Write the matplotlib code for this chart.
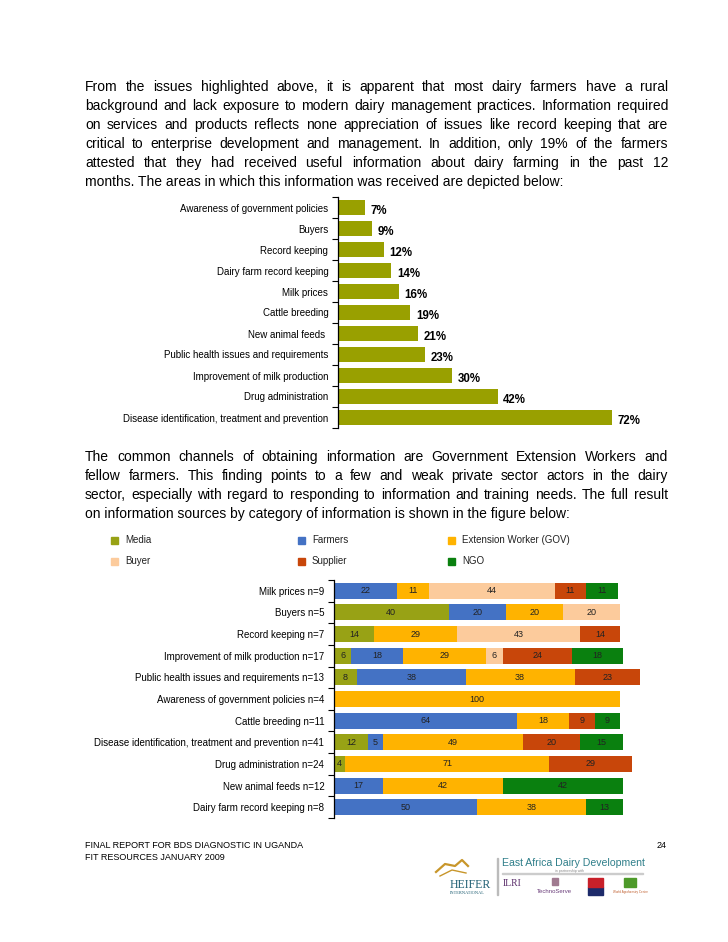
import numpy as np
import matplotlib
matplotlib.use('Agg')
import matplotlib.pyplot as plt
from matplotlib.patches import Rectangle
from matplotlib.lines import Line2D

plt.rcParams['font.family'] = ['Liberation Sans', 'DejaVu Sans']

W, H = 728, 942

# --- data chart 1 (top to bottom)
areas = ['Awareness of government policies', 'Buyers', 'Record keeping',
         'Dairy farm record keeping', 'Milk prices', 'Cattle breeding',
         'New animal feeds ', 'Public health issues and requirements',
         'Improvement of milk production', 'Drug administration',
         'Disease identification, treatment and prevention']
area_pct = [7, 9, 12, 14, 16, 19, 21, 23, 30, 42, 72]

# --- data chart 2 (top to bottom)
topics = ['Milk prices n=9', 'Buyers n=5', 'Record keeping n=7',
          'Improvement of milk production n=17',
          'Public health issues and requirements n=13',
          'Awareness of government policies n=4', 'Cattle breeding n=11',
          'Disease identification, treatment and prevention n=41',
          'Drug administration n=24', 'New animal feeds n=12',
          'Dairy farm record keeping n=8']
sources = ['Media', 'Farmers', 'Extension Worker (GOV)', 'Buyer', 'Supplier', 'NGO']
media    = [0, 40, 14, 6, 8, 0, 0, 12, 4, 0, 0]
farmers  = [22, 20, 0, 18, 38, 0, 64, 5, 0, 17, 50]
extens   = [11, 20, 29, 29, 38, 100, 18, 49, 71, 42, 38]
buyer    = [44, 20, 43, 6, 0, 0, 0, 0, 0, 0, 0]
supplier = [11, 0, 14, 24, 23, 0, 9, 20, 29, 0, 0]
ngo      = [11, 0, 0, 18, 0, 0, 9, 15, 0, 42, 13]
src_colors = ['#98a215', '#4472c4', '#ffb300', '#fccb9c', '#c8460a', '#0a800f']

para1 = ["From the issues highlighted above, it is apparent that most dairy farmers have a rural",
         "background and lack exposure to modern dairy management practices. Information required",
         "on services and products reflects none appreciation of issues like record keeping that are",
         "critical to enterprise development and management. In addition, only 19% of the farmers",
         "attested that they had received useful information about dairy farming in the past 12",
         "months. The areas in which this information was received are depicted below:"]
para2 = ["The common channels of obtaining information are Government Extension Workers and",
         "fellow farmers. This finding points to a few and weak private sector actors in the dairy",
         "sector, especially with regard to responding to information and training needs. The full result",
         "on information sources by category of information is shown in the figure below:"]

fig = plt.figure(figsize=(W / 100, H / 100), dpi=100)
fig.patch.set_facecolor('white')
renderer = fig.canvas.get_renderer()


def fx(x):
    return x / W


def fy(y):
    return 1 - y / H


# justified paragraph, last line left aligned
def paragraph(lines, y0, x0=85, x1=668, step=19, size=10):
    for i, line in enumerate(lines):
        y = y0 + i * step
        if i == len(lines) - 1:
            fig.text(fx(x0), fy(y), line, fontsize=size, va='baseline')
            continue
        words = line.split(' ')
        objs = [fig.text(0, fy(y), w, fontsize=size, va='baseline') for w in words]
        widths = [o.get_window_extent(renderer).width for o in objs]
        gap = (x1 - x0 - sum(widths)) / (len(words) - 1)
        x = x0
        for o, wd in zip(objs, widths):
            o.set_x(fx(x))
            x += wd + gap


paragraph(para1, 91)
paragraph(para2, 461)

lab_font = ['Liberation Sans', 'DejaVu Sans']

# ---------------- chart 1
ax1 = fig.add_axes([fx(338), fy(428), fx(304), 231 / H])
y1 = np.arange(len(areas))
ax1.barh(y1, area_pct, height=0.68, color='#99a000')
for yy, v in zip(y1, area_pct):
    ax1.text(v + 1.5, yy + 0.15, f'{v}%', fontsize=8.3, fontweight='bold',
             va='center', ha='left', family=lab_font)
ax1.set_ylim(len(areas) - 0.5, -0.5)
ax1.set_xlim(0, 80)
ax1.set_yticks(y1)
ax1.set_yticklabels(areas, fontsize=7, family=lab_font)
ax1.set_yticks(np.arange(-0.5, len(areas)), minor=True)
ax1.tick_params(axis='y', which='major', length=0, pad=7)
ax1.tick_params(axis='y', which='minor', length=4, width=0.8, direction='out')
ax1.set_xticks([])
for s in ['top', 'right', 'bottom']:
    ax1.spines[s].set_visible(False)
ax1.spines['left'].set_linewidth(0.9)

# ---------------- legend chart 2
leg_pos = [(115, 540), (115, 561), (302, 540), (302, 561), (452, 540), (452, 561)]
leg_order = [0, 3, 1, 4, 2, 5]
for (lx, ly), k in zip(leg_pos, leg_order):
    fig.patches.append(Rectangle((fx(lx - 4), fy(ly + 3.5)), 7 / W, 7 / H,
                                 transform=fig.transFigure, color=src_colors[k]))
    fig.text(fx(lx + 10), fy(ly), sources[k], fontsize=7, va='center',
             family=lab_font, color='#222222')

# ---------------- chart 2
ax2 = fig.add_axes([fx(334), fy(818), fx(315), 238 / H])
series = [media, farmers, extens, buyer, supplier, ngo]
y2 = np.arange(len(topics))
left = np.zeros(len(topics))
for vals, col in zip(series, src_colors):
    vals = np.array(vals, dtype=float)
    ax2.barh(y2, vals, left=left, height=0.74, color=col)
    for yy, l, v in zip(y2, left, vals):
        if v > 0:
            ax2.text(l + v / 2, yy, f'{int(v)}', fontsize=6.5, ha='center',
                     va='center', color='#222222', family=lab_font)
    left += vals
ax2.set_ylim(len(topics) - 0.5, -0.5)
ax2.set_xlim(0, 110)
ax2.set_yticks(y2)
ax2.set_yticklabels(topics, fontsize=7, family=lab_font)
ax2.set_yticks(np.arange(-0.5, len(topics)), minor=True)
ax2.tick_params(axis='y', which='major', length=0, pad=7)
ax2.tick_params(axis='y', which='minor', length=4, width=0.8, direction='out')
ax2.set_xticks([])
for s in ['top', 'right', 'bottom']:
    ax2.spines[s].set_visible(False)
ax2.spines['left'].set_linewidth(0.9)

# ---------------- footer
fig.text(fx(85), fy(848), 'FINAL REPORT FOR BDS DIAGNOSTIC IN UGANDA', fontsize=6.5, va='baseline')
fig.text(fx(85), fy(860), 'FIT RESOURCES JANUARY 2009', fontsize=6.5, va='baseline')
fig.text(fx(667), fy(848), '24', fontsize=6.5, va='baseline', ha='right')

# logo block (simplified)
fig.text(fx(502), fy(866), 'East Africa Dairy Development', fontsize=7.6, color='#2f7f8a', va='baseline')
fig.text(fx(555), fy(872), 'in partnership with', fontsize=2.5, color='#888888', va='baseline')
fig.patches.append(Rectangle((fx(502), fy(874)), 141 / W, 0.6 / H, transform=fig.transFigure, color='#cccccc'))
# cow swoosh
fig.lines.append(Line2D([fx(436), fx(445), fx(455), fx(462), fx(468)],
                        [fy(872), fy(864), fy(866), fy(860), fy(866)],
                        transform=fig.transFigure, color='#c8962a', lw=1.6))
fig.lines.append(Line2D([fx(440), fx(452), fx(466)],
                        [fy(876), fy(870), fy(873)],
                        transform=fig.transFigure, color='#c8962a', lw=1.0))
fig.text(fx(450), fy(888), 'HEIFER', fontsize=8.5, color='#1f5f73', va='baseline', family='Liberation Serif')
fig.text(fx(450), fy(894), 'INTERNATIONAL', fontsize=3.2, color='#1f5f73', va='baseline', family='Liberation Serif')
fig.text(fx(503), fy(886), 'ILRI', fontsize=7, color='#5a2d6a', va='baseline', family='Liberation Serif')
fig.patches.append(Rectangle((fx(552), fy(885)), 6 / W, 7 / H, transform=fig.transFigure, color='#a07a90'))
fig.text(fx(537), fy(893), 'TechnoServe', fontsize=4.3, color='#6a3d7a', va='baseline')
fig.patches.append(Rectangle((fx(588), fy(895)), 15 / W, 8 / H, transform=fig.transFigure, color='#1d2a6a'))
fig.patches.append(Rectangle((fx(588), fy(887)), 15 / W, 9 / H, transform=fig.transFigure, color='#c8202a'))
fig.patches.append(Rectangle((fx(624), fy(887)), 12 / W, 9 / H, transform=fig.transFigure, color='#4d9a2a'))
fig.text(fx(630), fy(893), 'World Agroforestry Centre', fontsize=2.2, color='#c06030', va='baseline', ha='center')
fig.patches.append(Rectangle((fx(497), fy(895)), 0.8 / W, 37 / H, transform=fig.transFigure, color='#bbbbbb'))

fig.savefig('out.png', dpi=100, facecolor='white')
